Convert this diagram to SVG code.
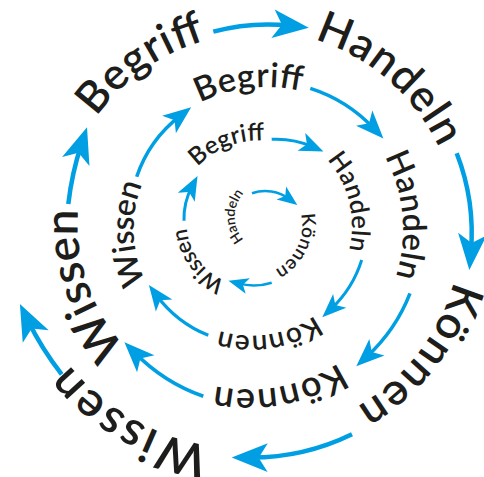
<svg xmlns="http://www.w3.org/2000/svg" xmlns:xlink="http://www.w3.org/1999/xlink" width="484" height="477" viewBox="0 0 484 477">
<style>
  text { font-family: Lato, "Liberation Sans", sans-serif; font-weight: 600; fill: #1d1d1b; text-anchor: middle; }
  .arr { fill: none; stroke: #009fe3; stroke-linecap: butt; marker-end: url(#head); }
</style>
<defs>
  <marker id="head" markerUnits="strokeWidth" orient="auto" refX="0" refY="0" viewBox="-4.5 -3.5 9 7" markerWidth="9" markerHeight="7" overflow="visible">
    <path d="M4,0 L-4,-3.2 L-2,0 L-4,3.2 Z" fill="#009fe3"/>
  </marker>
  <path id="r35" d="M0,-35 A35,35 0 0 1 0,35"/>
  <path id="r50" d="M0,-50 A50,50 0 0 1 0,50"/>
  <path id="r62" d="M0,-62 A62,62 0 0 1 0,62"/>
  <path id="r85" d="M0,-85 A85,85 0 0 1 0,85"/>
  <path id="r100" d="M0,-100 A100,100 0 0 1 0,100"/>
  <path id="r110" d="M0,-110 A110,110 0 0 1 0,110"/>
  <path id="r120" d="M0,-120 A120,120 0 0 1 0,120"/>
  <path id="r145" d="M0,-145 A145,145 0 0 1 0,145"/>
  <path id="r155" d="M0,-155 A155,155 0 0 1 0,155"/>
  <path id="r165" d="M0,-165 A165,165 0 0 1 0,165"/>
  <path id="r180" d="M0,-180 A180,180 0 0 1 0,180"/>
  <path id="r200" d="M0,-200 A200,200 0 0 1 0,200"/>
  <path id="r205" d="M0,-205 A205,205 0 0 1 0,205"/>
  <path id="r210" d="M0,-210 A210,210 0 0 1 0,210"/>
  <path id="r225" d="M0,-225 A225,225 0 0 1 0,225"/>
</defs>
<rect width="484" height="477" fill="#ffffff"/>

<g id="connectors">
  <path class="arr" stroke-width="2.5" d="M252,193.3 A40,40 0 0 1 289.3,199"/>
  <path class="arr" stroke-width="2.5" d="M271.7,282.7 A60,60 0 0 1 238.1,283.4"/>
  <path class="arr" stroke-width="3" d="M184,220.7 A68,68 0 0 1 191.9,186.6"/>
  <path class="arr" stroke-width="3" d="M271.7,139.3 A90,90 0 0 1 312.4,146.6"/>
  <path class="arr" stroke-width="3" d="M361.7,260 A115,115 0 0 1 331,309.1"/>
  <path class="arr" stroke-width="3.2" d="M208.3,335.3 A120,120 0 0 1 156.5,295.2"/>
  <path class="arr" stroke-width="3.5" d="M136.7,176.7 A130,130 0 0 1 180.1,115.9"/>
  <path class="arr" stroke-width="3.5" d="M310.3,88.3 A150,150 0 0 1 373.8,128.4"/>
  <path class="arr" stroke-width="3.5" d="M410,293.3 A170,170 0 0 1 366.6,356.8"/>
  <path class="arr" stroke-width="3.8" d="M203.3,396.3 A178,178 0 0 1 135.1,353"/>
  <path class="arr" stroke-width="4.5" d="M68.3,204 A300,300 0 0 1 81.4,144.3"/>
  <path class="arr" stroke-width="4.5" d="M213.3,31.7 A205,205 0 0 1 290.9,25.8"/>
  <path class="arr" stroke-width="4.5" d="M456.7,153.3 A220,220 0 0 1 470.9,252"/>
  <path class="arr" stroke-width="4.5" d="M352,434.3 A230,230 0 0 1 249.7,457.6"/>
  <path class="arr" stroke-width="4.5" d="M61.7,374.3 A300,300 0 0 1 27.8,320.3"/>
</g>

<g id="w01-handeln"><text transform="translate(269.8,216.5) rotate(-180)" font-size="14"><textPath xlink:href="#r35" href="#r35" startOffset="50%" textLength="51">Handeln</textPath></text></g>
<g id="w02-koennen"><text transform="translate(252.2,225.2) rotate(25.1)" font-size="19"><textPath xlink:href="#r50" href="#r50" startOffset="50%" textLength="66">Können</textPath></text></g>
<g id="w03-wissen"><text transform="translate(248.7,223.1) rotate(143.6)" font-size="22"><textPath xlink:href="#r62" href="#r62" startOffset="50%" textLength="69">Wissen</textPath></text></g>
<g id="w04-begriff"><text transform="translate(259,225.4) rotate(-111.4)" font-size="24.5"><textPath xlink:href="#r85" href="#r85" startOffset="50%" textLength="74">Begriff</textPath></text></g>
<g id="w05-handeln"><text transform="translate(251.9,225.8) rotate(-13.7)" font-size="25.5"><textPath xlink:href="#r100" href="#r100" startOffset="50%" textLength="97">Handeln</textPath></text></g>
<g id="w06-koennen"><text transform="translate(251.4,225.6) rotate(80.9)" font-size="28"><textPath xlink:href="#r110" href="#r110" startOffset="50%" textLength="100">Können</textPath></text></g>
<g id="w07-wissen"><text transform="translate(253.6,229) rotate(177.8)" font-size="32"><textPath xlink:href="#r120" href="#r120" startOffset="50%" textLength="101">Wissen</textPath></text></g>
<g id="w08-begriff"><text transform="translate(266,232) rotate(-96.6)" font-size="34"><textPath xlink:href="#r145" href="#r145" startOffset="50%" textLength="104">Begriff</textPath></text></g>
<g id="w09-handeln"><text transform="translate(248.1,229.8) rotate(-5.3)" font-size="32.5"><textPath xlink:href="#r155" href="#r155" startOffset="50%" textLength="124">Handeln</textPath></text></g>
<g id="w10-koennen"><text transform="translate(248.7,224.5) rotate(79.4)" font-size="36"><textPath xlink:href="#r165" href="#r165" startOffset="50%" textLength="129">Können</textPath></text></g>
<g id="w11-wissen"><text transform="translate(257.7,224.6) rotate(160.9)" font-size="46"><textPath xlink:href="#r180" href="#r180" startOffset="50%" textLength="150">Wissen</textPath></text></g>
<g id="w12-begriff"><text transform="translate(259.1,233.2) rotate(-125)" font-size="44"><textPath xlink:href="#r200" href="#r200" startOffset="50%" textLength="136">Begriff</textPath></text></g>
<g id="w13-handeln"><text transform="translate(253.6,235.2) rotate(-49)" font-size="44"><textPath xlink:href="#r205" href="#r205" startOffset="50%" textLength="170">Handeln</textPath></text></g>
<g id="w14-koennen"><text transform="translate(251.7,224.6) rotate(37.8)" font-size="45"><textPath xlink:href="#r210" href="#r210" startOffset="50%" textLength="163">Können</textPath></text></g>
<g id="w15-wissen"><text transform="translate(244.3,223.3) rotate(119.9)" font-size="48"><textPath xlink:href="#r225" href="#r225" startOffset="50%" textLength="166">Wissen</textPath></text></g>
</svg>
